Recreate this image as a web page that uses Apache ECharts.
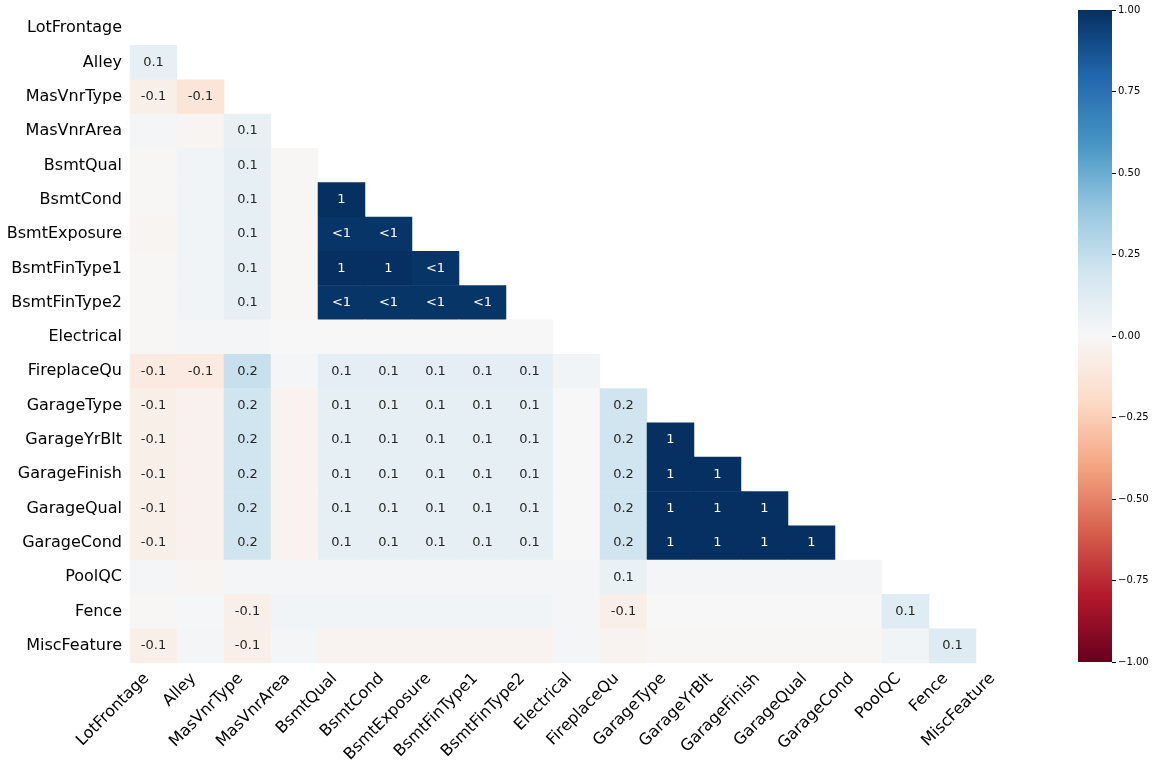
<!DOCTYPE html>
<html>
<head>
<meta charset="utf-8">
<script src="https://cdn.jsdelivr.net/npm/echarts@6/dist/echarts.min.js"></script>
<style>
  html, body { margin: 0; padding: 0; background: #fff; }
  #chart { width: 1155px; height: 769px; }
</style>
</head>
<body>
<div id="chart"></div>
<script>
// column / row names (same order on both axes)
var labels = ['LotFrontage', 'Alley', 'MasVnrType', 'MasVnrArea', 'BsmtQual', 'BsmtCond',
  'BsmtExposure', 'BsmtFinType1', 'BsmtFinType2', 'Electrical', 'FireplaceQu', 'GarageType',
  'GarageYrBlt', 'GarageFinish', 'GarageQual', 'GarageCond', 'PoolQC', 'Fence', 'MiscFeature'];

// lower triangle of the nullity correlation, one row per label
var corrRows = [
  [],
  [0.09],
  [-0.06, -0.13],
  [0.02, -0.02, 0.08],
  [-0.01, 0.03, 0.09, -0.01],
  [-0.01, 0.03, 0.09, -0.01, 1],
  [-0.02, 0.03, 0.09, -0.01, 0.98, 0.98],
  [-0.01, 0.03, 0.09, -0.01, 1, 1, 0.98],
  [-0.01, 0.03, 0.09, -0.01, 0.98, 0.98, 0.98, 0.98],
  [-0.01, 0.02, 0.02, 0.0, 0.0, 0.0, 0.0, 0.0, 0.0],
  [-0.09, -0.09, 0.23, 0.02, 0.1, 0.1, 0.1, 0.1, 0.1, 0.03],
  [-0.06, -0.04, 0.2, -0.03, 0.09, 0.09, 0.09, 0.09, 0.09, 0.0, 0.2],
  [-0.06, -0.04, 0.2, -0.03, 0.09, 0.09, 0.09, 0.09, 0.09, 0.0, 0.2, 1],
  [-0.06, -0.04, 0.2, -0.03, 0.09, 0.09, 0.09, 0.09, 0.09, 0.0, 0.2, 1, 1],
  [-0.06, -0.04, 0.2, -0.03, 0.09, 0.09, 0.09, 0.09, 0.09, 0.0, 0.2, 1, 1, 1],
  [-0.06, -0.04, 0.2, -0.03, 0.09, 0.09, 0.09, 0.09, 0.09, 0.0, 0.2, 1, 1, 1, 1],
  [0.02, -0.02, 0.02, 0.02, 0.02, 0.02, 0.02, 0.02, 0.02, 0.02, 0.07, 0.02, 0.02, 0.02, 0.02, 0.02],
  [-0.01, 0.01, -0.06, 0.03, 0.03, 0.03, 0.03, 0.03, 0.03, 0.02, -0.06, 0.0, 0.0, 0.0, 0.0, 0.0, 0.12],
  [-0.06, 0.02, -0.06, 0.02, -0.03, -0.03, -0.03, -0.03, -0.03, 0.02, -0.03, -0.01, -0.01, -0.01, -0.01, -0.01, 0.03, 0.13]
];

// colorbar ticks
var cbarTicks = [-1, -0.75, -0.5, -0.25, 0, 0.25, 0.5, 0.75, 1];

// RdBu, low -> high
var rdbu = ['#67001f', '#b2182b', '#d6604d', '#f4a582', '#fddbc7', '#f7f7f7',
  '#d1e5f0', '#92c5de', '#4393c3', '#2166ac', '#053061'];

// same text rule as missingno: one decimal, blank for 0, "<1" for almost-1
function annot(v) {
  var r = Math.round(v * 10) / 10;
  if (r === 0) return '';
  if (r === 1) return v < 1 ? '<1' : '1';
  if (r === -1) return v > -1 ? '>-1' : '-1';
  return r.toFixed(1);
}

var cells = [];
corrRows.forEach(function (row, i) {
  row.forEach(function (v, j) {
    cells.push({
      value: [j, i, v],
      label: { color: v > 0.6 ? '#ffffff' : '#262626' }
    });
  });
});

var font = 'DejaVu Sans';
var chart = echarts.init(document.getElementById('chart'));
chart.setOption({
  animation: false,
  textStyle: { fontFamily: font },
  grid: [
    { left: 130, top: 11, width: 893, height: 652 },
    { left: 1078, top: 10, width: 34, height: 652 }
  ],
  xAxis: [{
    type: 'category',
    gridIndex: 0,
    data: labels,
    axisLine: { show: false },
    axisTick: { show: false },
    splitLine: { show: false },
    axisLabel: {
      interval: 0,
      rotate: 45,
      margin: 6,
      padding: [0, 10, 0, 0],
      fontSize: 16,
      color: '#000',
      fontFamily: font
    }
  }, {
    type: 'value',
    gridIndex: 1,
    min: 0,
    max: 1,
    show: false
  }],
  yAxis: [{
    type: 'category',
    gridIndex: 0,
    data: labels,
    inverse: true,
    axisLine: { show: false },
    axisTick: { show: false },
    splitLine: { show: false },
    axisLabel: {
      interval: 0,
      margin: 8,
      fontSize: 16,
      color: '#000',
      fontFamily: font
    }
  }, {
    type: 'value',
    gridIndex: 1,
    position: 'right',
    min: cbarTicks[0],
    max: cbarTicks[cbarTicks.length - 1],
    interval: 0.25,
    axisLine: { show: false, onZero: false },
    splitLine: { show: false },
    axisTick: { show: true, length: 4, lineStyle: { color: '#000' } },
    axisLabel: {
      margin: 6,
      fontSize: 10,
      color: '#000',
      fontFamily: font,
      formatter: function (v) { return v.toFixed(2).replace('-', '\u2212'); }
    }
  }],
  visualMap: {
    show: false,
    seriesIndex: 0,
    min: -1,
    max: 1,
    inRange: { color: rdbu }
  },
  series: [{
    type: 'heatmap',
    xAxisIndex: 0,
    yAxisIndex: 0,
    data: cells,
    label: {
      show: true,
      fontSize: 13,
      fontFamily: font,
      formatter: function (p) { return annot(p.value[2]); }
    },
    emphasis: { disabled: true }
  }, {
    // colour bar
    type: 'custom',
    xAxisIndex: 1,
    yAxisIndex: 1,
    data: [[0, cbarTicks[0], 1, cbarTicks[cbarTicks.length - 1]]],
    encode: { x: [0, 2], y: [1, 3] },
    renderItem: function (params, api) {
      var tl = api.coord([api.value(0), api.value(3)]);
      var br = api.coord([api.value(2), api.value(1)]);
      var stops = rdbu.slice().reverse().map(function (c, k) {
        return { offset: k / (rdbu.length - 1), color: c };
      });
      return {
        type: 'rect',
        shape: { x: tl[0], y: tl[1], width: br[0] - tl[0], height: br[1] - tl[1] },
        style: { fill: new echarts.graphic.LinearGradient(0, 0, 0, 1, stops) }
      };
    },
    silent: true
  }]
});
</script>
</body>
</html>
